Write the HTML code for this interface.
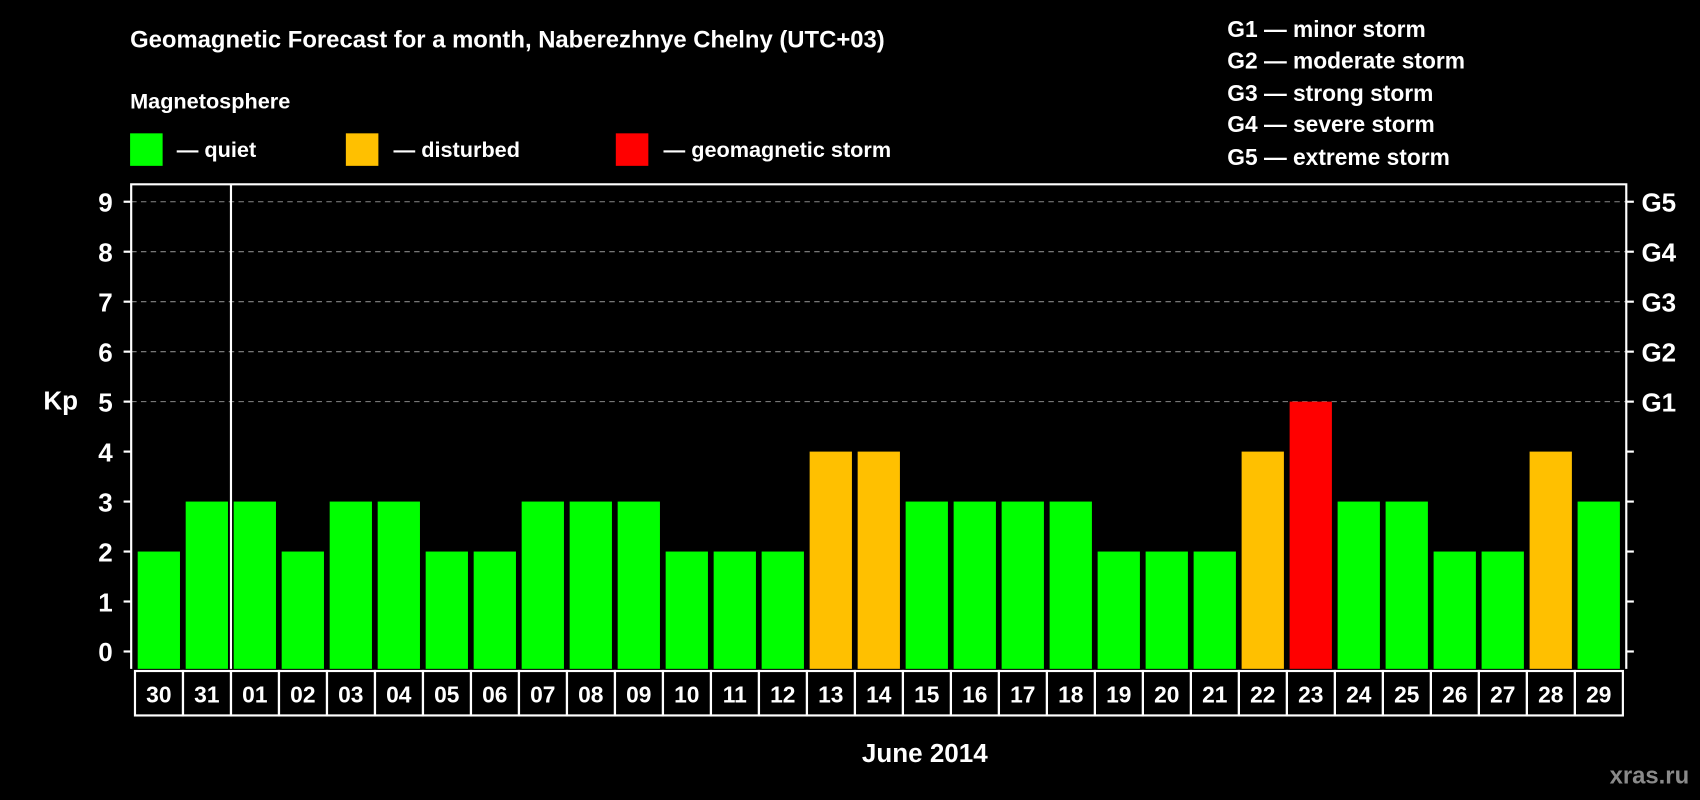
<!DOCTYPE html>
<html><head><meta charset="utf-8"><style>
html,body{margin:0;padding:0;background:#000;}
svg{display:block;font-family:"Liberation Sans",sans-serif;font-weight:bold;}
</style></head><body>
<svg id="chart" width="1700" height="800" viewBox="0 0 1568 738" preserveAspectRatio="none" xmlns="http://www.w3.org/2000/svg">
<rect width="1568" height="738" fill="#000"/>
<text x="120" y="44" fill="#fff" font-size="22">Geomagnetic Forecast for a month, Naberezhnye Chelny (UTC+03)</text>
<text x="120" y="100" fill="#fff" font-size="20">Magnetosphere</text>
<g><rect x="120" y="123" width="30" height="30" fill="#00ff00"/><text x="163" y="145" fill="#fff" font-size="20">— quiet</text></g>
<g><rect x="319" y="123" width="30" height="30" fill="#ffc000"/><text x="363" y="145" fill="#fff" font-size="20">— disturbed</text></g>
<g><rect x="568" y="123" width="30" height="30" fill="#ff0000"/><text x="612" y="145" fill="#fff" font-size="20">— geomagnetic storm</text></g>
<g fill="#fff" font-size="21">
<text x="1132" y="34">G1 — minor storm</text>
<text x="1132" y="63">G2 — moderate storm</text>
<text x="1132" y="93">G3 — strong storm</text>
<text x="1132" y="122">G4 — severe storm</text>
<text x="1132" y="152">G5 — extreme storm</text>
</g>
<text x="40" y="378" fill="#fff" font-size="24">Kp</text>
<text x="853" y="703" fill="#fff" font-size="24" text-anchor="middle">June 2014</text>
<text x="1558" y="723" fill="#8a8a8a" font-size="22" text-anchor="end">xras.ru</text>
<g id="grid"></g><g id="bars"></g><g id="axes"></g><g id="days"></g>
</svg>
<script>
const days=["30","31","01","02","03","04","05","06","07","08","09","10","11","12","13","14","15","16","17","18","19","20","21","22","23","24","25","26","27","28","29"];
const kp=[2,3,3,2,3,3,2,2,3,3,3,2,2,2,4,4,3,3,3,3,2,2,2,4,5,3,3,2,2,4,3];
const yTicks=[0,1,2,3,4,5,6,7,8,9];
const gLabels=["G1","G2","G3","G4","G5"];
const NS="http://www.w3.org/2000/svg";
const L=121,R=1500,T=170,B=617,X0=127,STEP=44.27,BW=39;
function y(v){return 601-v*46.1;}
function x(i){return X0+i*STEP;}
function mk(tag,attrs,parent){const e=document.createElementNS(NS,tag);for(const k in attrs)e.setAttribute(k,attrs[k]);parent.appendChild(e);return e;}
const grid=document.getElementById('grid'),bars=document.getElementById('bars'),axes=document.getElementById('axes'),dg=document.getElementById('days');
function col(v){return v>=5?"#ff0000":(v>=4?"#ffc000":"#00ff00");}
yTicks.forEach(v=>{
  if(v>=5){const g=mk('line',{x1:L,x2:R,y1:y(v),y2:y(v),stroke:"#888","stroke-dasharray":"5,4","stroke-width":1},grid);
  
  }
  const t=mk('text',{x:104,y:y(v)+9,fill:"#fff","font-size":24,"text-anchor":"end"},axes);t.textContent=v;
  
  
  mk('line',{x1:L-7,x2:L,y1:y(v),y2:y(v),stroke:"#fff","stroke-width":2},axes);
  mk('line',{x1:R,x2:R+7,y1:y(v),y2:y(v),stroke:"#fff","stroke-width":2},axes);
});
gLabels.forEach((g,i)=>{const t=mk('text',{x:1514,y:y(i+5)+9,fill:"#fff","font-size":24},axes);t.textContent=g;
  
  });
kp.forEach((v,i)=>{
  const r=mk('rect',{x:x(i),y:y(v),width:BW,height:B-y(v),fill:col(v)},bars);
  
  
  const c=mk('rect',{x:x(i)-2.5,y:619,width:STEP,height:41,fill:"none",stroke:"#fff","stroke-width":2},dg);
  
  
  const t=mk('text',{x:x(i)+BW/2,y:648,fill:"#fff","font-size":21,"text-anchor":"middle"},dg);t.textContent=days[i];
  
  
});
const fr=mk('path',{d:`M${L} ${B}V${T}H${R}V${B}`,fill:"none",stroke:"#fff","stroke-width":2},axes);


const sep=mk('line',{x1:x(2)-2.5,x2:x(2)-2.5,y1:T,y2:B,stroke:"#fff","stroke-width":2},axes);


</script>
</body></html>
